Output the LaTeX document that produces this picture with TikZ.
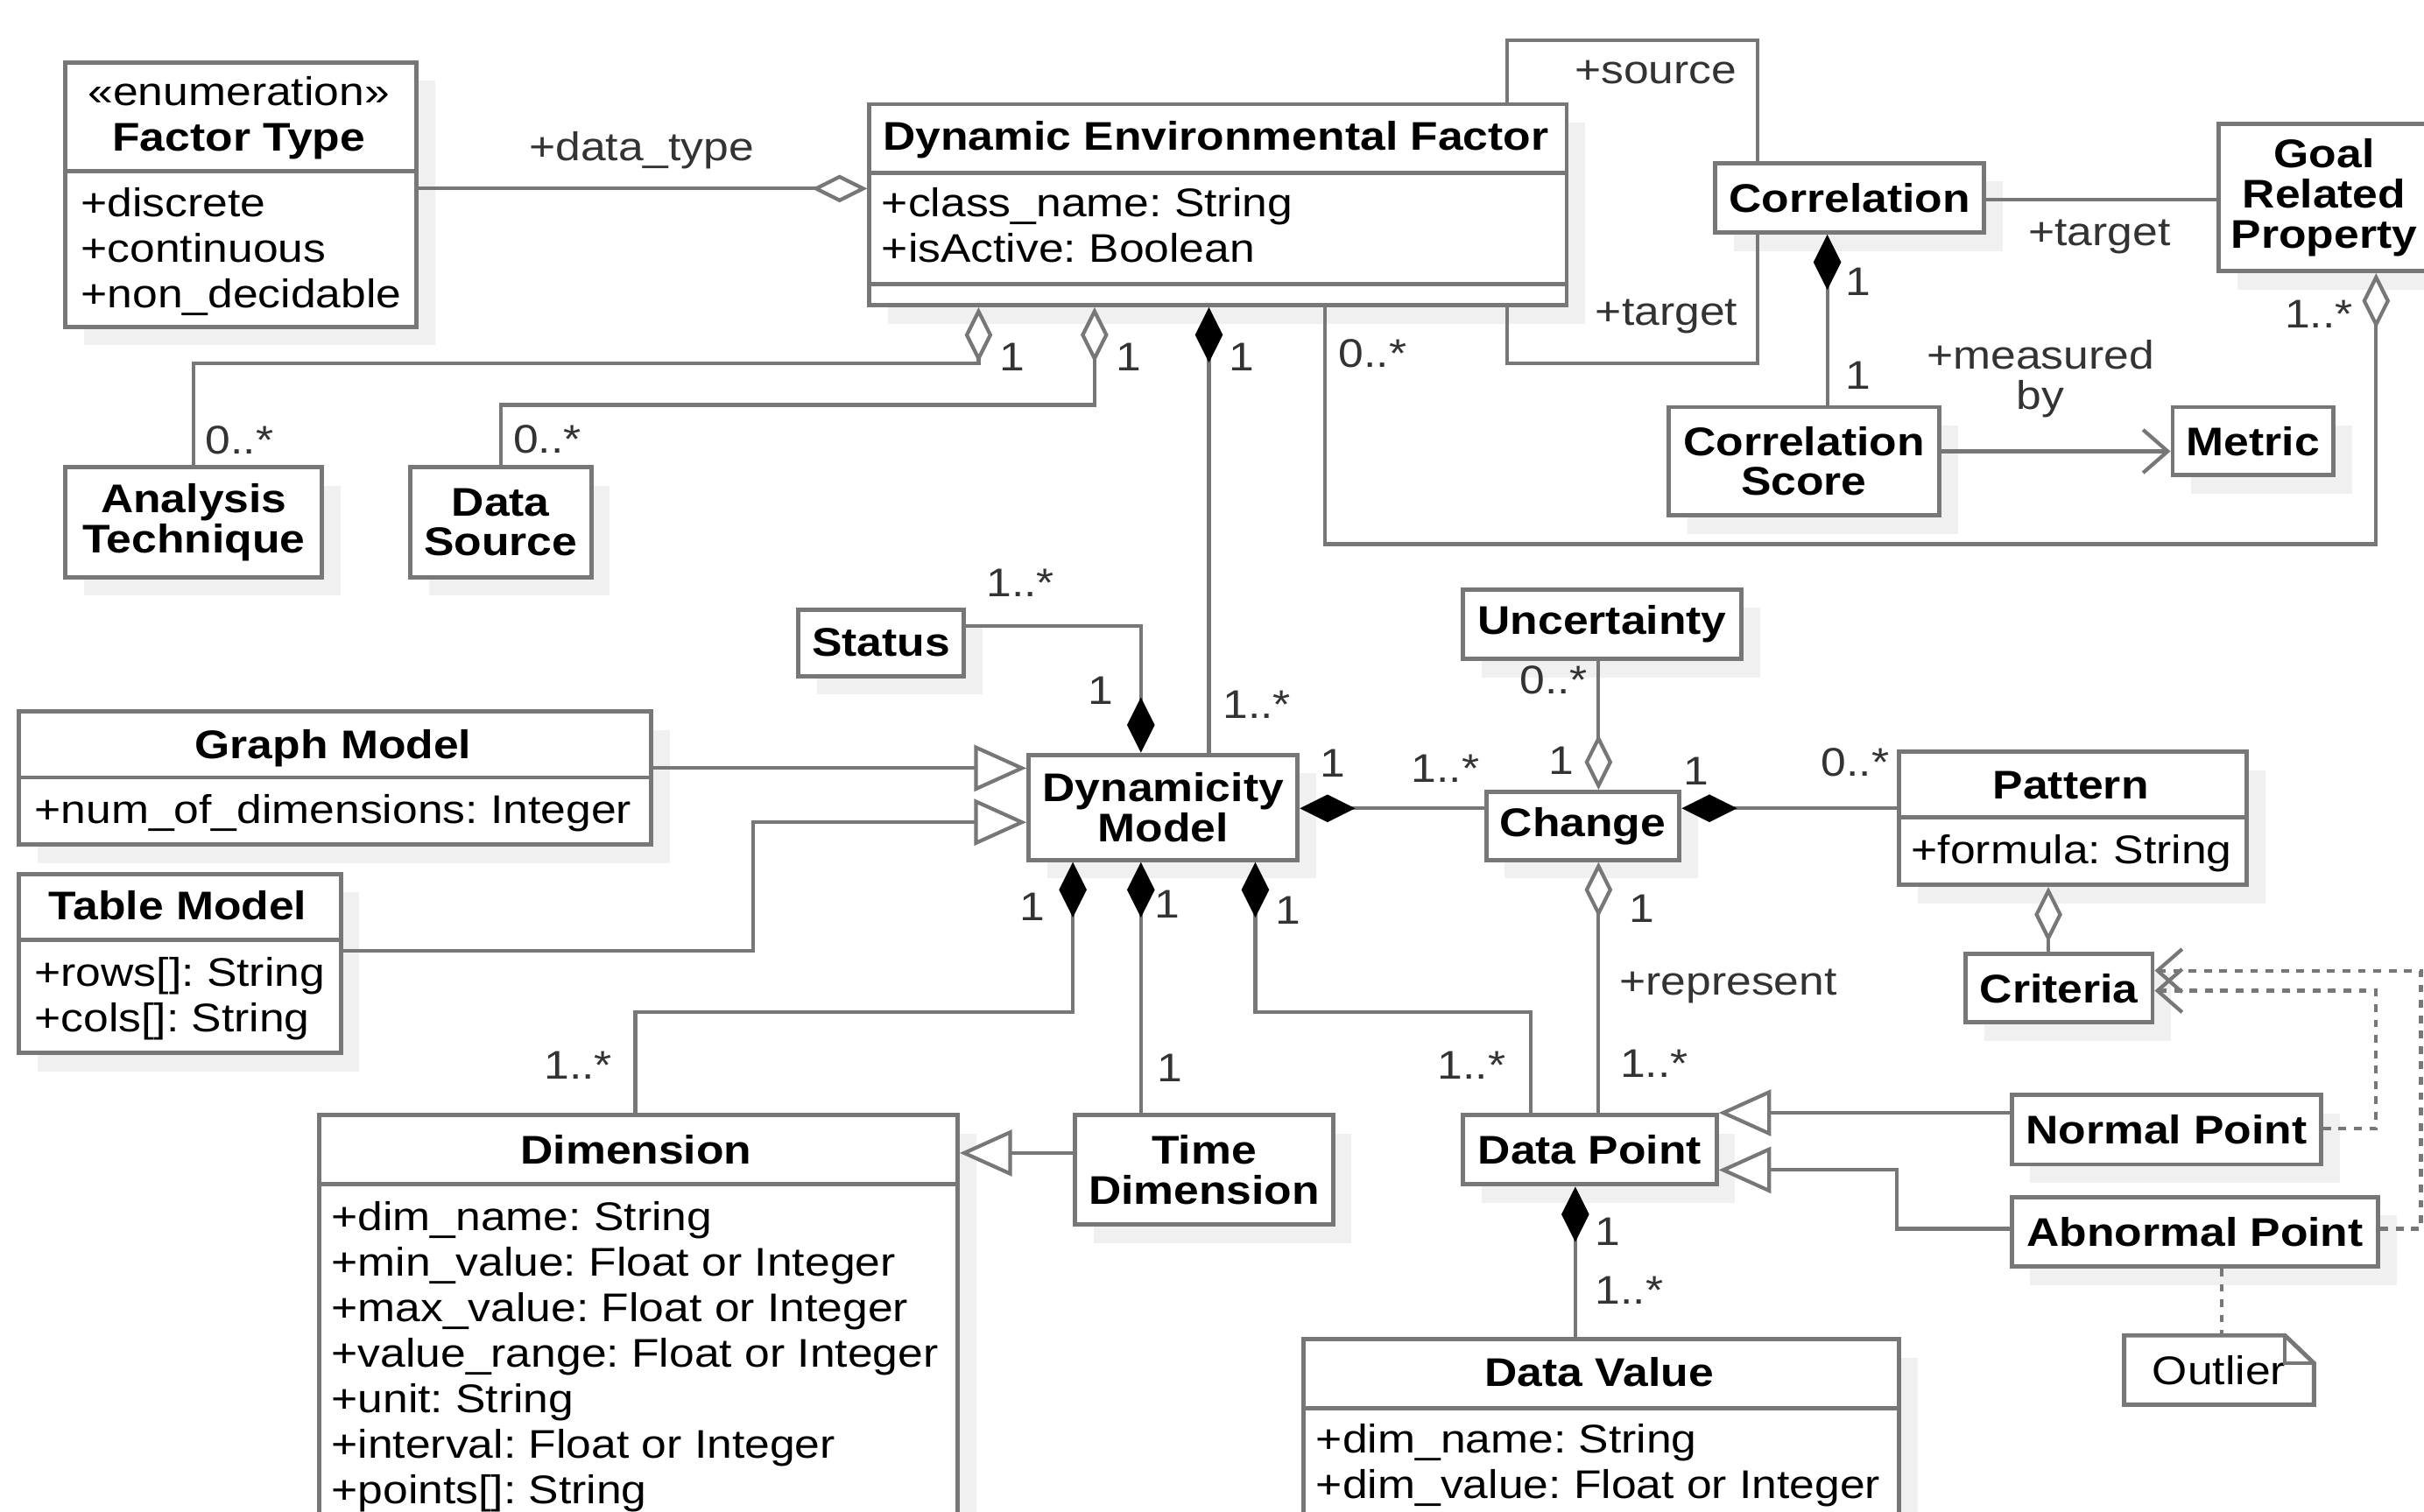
\documentclass[tikz,border=0pt]{standalone}
\usepackage{fontspec}
\setmainfont{Liberation Sans}[FakeStretch=1.13]
\usepackage{tikz}
\usetikzlibrary{arrows.meta,shadows}
\definecolor{umlline}{HTML}{777777}
\definecolor{umlshade}{HTML}{F0F0F0}
\definecolor{umltext}{HTML}{333333}
\newcommand{\pxu}{0.017653cm}
\tikzstyle{umlbox} = [draw=umlline, line width=1.4pt, fill=white, inner sep=0pt, anchor=north west,
  drop shadow={shadow xshift=6pt, shadow yshift=-6pt, fill=umlshade, opacity=1}]
\tikzset{
  % sizes are given in pixels of the drawing, one pixel = \pxu
  boxsize/.style 2 args={minimum width=#1*\pxu, minimum height=#2*\pxu},
  cname/.style={font=\bfseries, align=center},
  ctitle/.style={font=\bfseries, anchor=base, inner sep=0pt},
  % multi-line nodes sit on the baseline of their last line
  attr/.style={align=left, anchor=base west, inner sep=0pt, font=\fontsize{13}{14.8}\selectfont},
  divider/.style={draw=umlline, line width=1.4pt},
  mult/.style={text=umltext, inner sep=0pt, align=center},
  conn/.style={draw=umlline, line width=1.2pt},
  agg/.style={conn, -{Diamond[fill=white, length=18pt, width=9pt]}},
  aggrev/.style={conn, {Diamond[fill=white, length=18pt, width=9pt]}-},
  comp/.style={conn, -{Diamond[color=black, fill=black, length=18pt, width=9pt]}},
  comprev/.style={conn, {Diamond[color=black, fill=black, length=18pt, width=9pt]}-},
  inherit/.style={conn, -{Triangle[fill=white, length=17pt, width=15pt]}},
  navig/.style={conn, -{Straight Barb[length=8pt, width=14pt]}},
  realize/.style={conn, dash pattern=on 2.5pt off 2.5pt, -{Straight Barb[length=8pt, width=14pt]}},
  noteline/.style={conn, dash pattern=on 2.5pt off 2.5pt},
}

\begin{document}
\fontsize{13}{13}\selectfont\frenchspacing
\begin{tikzpicture}[x=0.017653cm, y=-0.017653cm]
    \useasboundingbox (0,0) rectangle (1568,978);
    \clip (0,0) rectangle (1568,978);

    % classes with compartments
    \node[umlbox, boxsize={227}{171}] (ft) at (41,39) {};
    \draw[divider] (ft.west |- 0,111) -- (ft.east |- 0,111);
    \node[anchor=base, inner sep=0pt, align=center, font=\fontsize{13}{14.8}\selectfont] at (154.5,97.5) {«enumeration»\\\textbf{Factor Type}};
    \node[attr] at (52,199) {+discrete\\+continuous\\+non\_decidable};

    \node[umlbox, boxsize={451}{130}] (def) at (561,66) {};
    \draw[divider] (def.west |- 0,112) -- (def.east |- 0,112);
    \draw[divider] (def.west |- 0,184) -- (def.east |- 0,184);
    \node[ctitle] at (786.5,97) {Dynamic Environmental Factor};
    \node[attr] at (570,169.5) {+class\_name: String\\+isActive: Boolean};

    \node[umlbox, boxsize={409}{86}] (gm) at (11,459) {};
    \draw[divider] (gm.west |- 0,503) -- (gm.east |- 0,503);
    \node[ctitle] at (215.5,491) {Graph Model};
    \node[attr] at (22,533) {+num\_of\_dimensions: Integer};

    \node[umlbox, boxsize={208}{116}] (tm) at (11,564) {};
    \draw[divider] (tm.west |- 0,608) -- (tm.east |- 0,608);
    \node[ctitle] at (115,595) {Table Model};
    \node[attr] at (22,667.5) {+rows[]: String\\+cols[]: String};

    \node[umlbox, boxsize={225}{86}] (pattern) at (1227,485) {};
    \draw[divider] (pattern.west |- 0,529) -- (pattern.east |- 0,529);
    \node[ctitle] at (1339.5,517) {Pattern};
    \node[attr] at (1236,559) {+formula: String};

    \node[umlbox, boxsize={413}{300}] (dim) at (205,720) {};
    \draw[divider] (dim.west |- 0,766) -- (dim.east |- 0,766);
    \node[ctitle] at (411.5,753) {Dimension};
    \node[attr] at (214,973) {+dim\_name: String\\+min\_value: Float or Integer\\+max\_value: Float or Integer\\+value\_range: Float or Integer\\+unit: String\\+interval: Float or Integer\\+points[]: String};

    \node[umlbox, boxsize={385}{200}] (dv) at (842,865) {};
    \draw[divider] (dv.west |- 0,911) -- (dv.east |- 0,911);
    \node[ctitle] at (1034.5,897) {Data Value};
    \node[attr] at (851,969.5) {+dim\_name: String\\+dim\_value: Float or Integer};

    % plain classes
    \node[umlbox, cname, boxsize={174}{45}] (corr) at (1108,104) {Correlation};
    \node[umlbox, cname, boxsize={136}{95}] (grp) at (1434,79) {Goal\\Related\\Property};
    \node[umlbox, cname, boxsize={175}{70}] (cs) at (1078,262) {Correlation\\Score};
    \node[umlbox, cname, boxsize={104}{44}] (metric) at (1404,262) {Metric};
    \node[umlbox, cname, boxsize={166}{71}] (tech) at (41,301) {Analysis\\Technique};
    \node[umlbox, cname, boxsize={117}{71}] (src) at (264,301) {Data\\Source};
    \node[umlbox, cname, boxsize={107}{43}] (status) at (515,393) {Status};
    \node[umlbox, cname, boxsize={174}{68}] (dm) at (664,487) {Dynamicity\\Model};
    \node[umlbox, cname, boxsize={180}{45}] (unc) at (945,380) {Uncertainty};
    \node[umlbox, cname, boxsize={125}{44}] (change) at (960,511) {Change};
    \node[umlbox, cname, boxsize={121}{44}] (crit) at (1270,616) {Criteria};
    \node[umlbox, cname, boxsize={200}{45}] (np) at (1300,707) {Normal Point};
    \node[umlbox, cname, boxsize={237}{45}] (ap) at (1300,773) {Abnormal Point};
    \node[umlbox, cname, boxsize={167}{71}] (td) at (694,720) {Time\\Dimension};
    \node[umlbox, cname, boxsize={164}{45}] (dp) at (945,720) {Data Point};

    % note
    \node[anchor=north west, inner sep=0pt, boxsize={122}{44}] (outlier) at (1374,864) {Outlier\hspace{8pt}};
    \draw[conn, line width=1.4pt] (outlier.north west) -- ++(104,0) -- (outlier.north east |- 0,882)
        -- (outlier.south east) -- (outlier.south west) -- cycle;
    \draw[conn] (1478,864) -- (1478,882) -- (outlier.north east |- 0,882);

    % connectors
    \draw[agg] (ft.east |- 0,122) -- (def.west |- 0,122);
    \draw[aggrev] (def.south -| 633,0) |- (tech.north |- 0,235) -- (tech.north);
    \draw[aggrev] (def.south -| 708,0) |- (src.north |- 0,262) -- (src.north);
    \draw[comprev] (def.south -| 782,0) -- (dm.north -| 782,0);
    \draw[agg] (def.south -| 857,0) |- (1537,352) -- (grp.south -| 1537,0);
    \draw[conn] (def.north -| 975,0) |- (1137,26) -- (corr.north -| 1137,0);
    \draw[conn] (def.south -| 975,0) |- (1137,235) -- (corr.south -| 1137,0);
    \draw[conn] (corr.east |- 0,129) -- (grp.west |- 0,129);
    \draw[comprev] (corr.south -| 1182,0) -- (cs.north -| 1182,0);
    \draw[navig] (cs.east |- 0,292) -- (metric.west |- 0,292);
    \draw[comp] (status.east |- 0,405) -| (dm.north -| 738,0);
    \draw[inherit] (gm.east |- 0,497) -- (dm.west |- 0,497);
    \draw[inherit] (tm.east |- 0,615) -| (487,532) -- (dm.west |- 0,532);
    \draw[comprev] (dm.east |- 0,523) -- (change.west |- 0,523);
    \draw[agg] (unc.south -| 1034,0) -- (change.north -| 1034,0);
    \draw[comp] (pattern.west |- 0,523) -- (change.east |- 0,523);
    \draw[aggrev] (change.south -| 1034,0) -- (dp.north -| 1034,0);
    \draw[comprev] (dm.south -| 694,0) |- (411,655) -- (dim.north -| 411,0);
    \draw[comprev] (dm.south -| 738,0) -- (td.north -| 738,0);
    \draw[comprev] (dm.south -| 812,0) |- (990,655) -- (dp.north -| 990,0);
    \draw[inherit] (td.west |- 0,746) -- (dim.east |- 0,746);
    \draw[aggrev] (pattern.south -| 1325,0) -- (crit.north -| 1325,0);
    \draw[realize] (np.east |- 0,730) -| (1537,641) -- (crit.east |- 0,641);
    \draw[realize] (ap.east |- 0,795) -| (1566,628) -- (crit.east |- 0,628);
    \draw[inherit] (np.west |- 0,720) -- (dp.east |- 0,720);
    \draw[inherit] (ap.west |- 0,795) -| (1227,757) -- (dp.east |- 0,757);
    \draw[comprev] (dp.south -| 1019,0) -- (dv.north -| 1019,0);
    \draw[noteline] (ap.south -| 1437,0) -- (outlier.north -| 1437,0);

    % roles and multiplicities
    \node[mult] at (415,97) {+data\_type};
    \node[mult] at (655,231) {1};
    \node[mult] at (730,231) {1};
    \node[mult] at (803,231) {1};
    \node[mult] at (888,229) {0..*};
    \node[mult] at (155,285) {0..*};
    \node[mult] at (354,284) {0..*};
    \node[mult] at (1071,47) {+source};
    \node[mult] at (1078,205) {+target};
    \node[mult] at (1358,153) {+target};
    \node[mult] at (1202,182) {1};
    \node[mult] at (1202,243) {1};
    \node[mult] at (1320,245) {+measured\\by};
    \node[mult] at (1500,203) {1..*};
    \node[mult] at (660,377) {1..*};
    \node[mult] at (712,447) {1};
    \node[mult] at (813,456) {1..*};
    \node[mult] at (862,494) {1};
    \node[mult] at (935,497) {1..*};
    \node[mult] at (1005,440) {0..*};
    \node[mult] at (1010,492) {1};
    \node[mult] at (1097,499) {1};
    \node[mult] at (1200,493) {0..*};
    \node[mult] at (668,587) {1};
    \node[mult] at (755,585) {1};
    \node[mult] at (833,589) {1};
    \node[mult] at (1062,588) {1};
    \node[mult] at (1118,638) {+represent};
    \node[mult] at (1070,688) {1..*};
    \node[mult] at (374,689) {1..*};
    \node[mult] at (757,691) {1};
    \node[mult] at (952,689) {1..*};
    \node[mult] at (1040,797) {1};
    \node[mult] at (1054,835) {1..*};
\end{tikzpicture}
\end{document}
